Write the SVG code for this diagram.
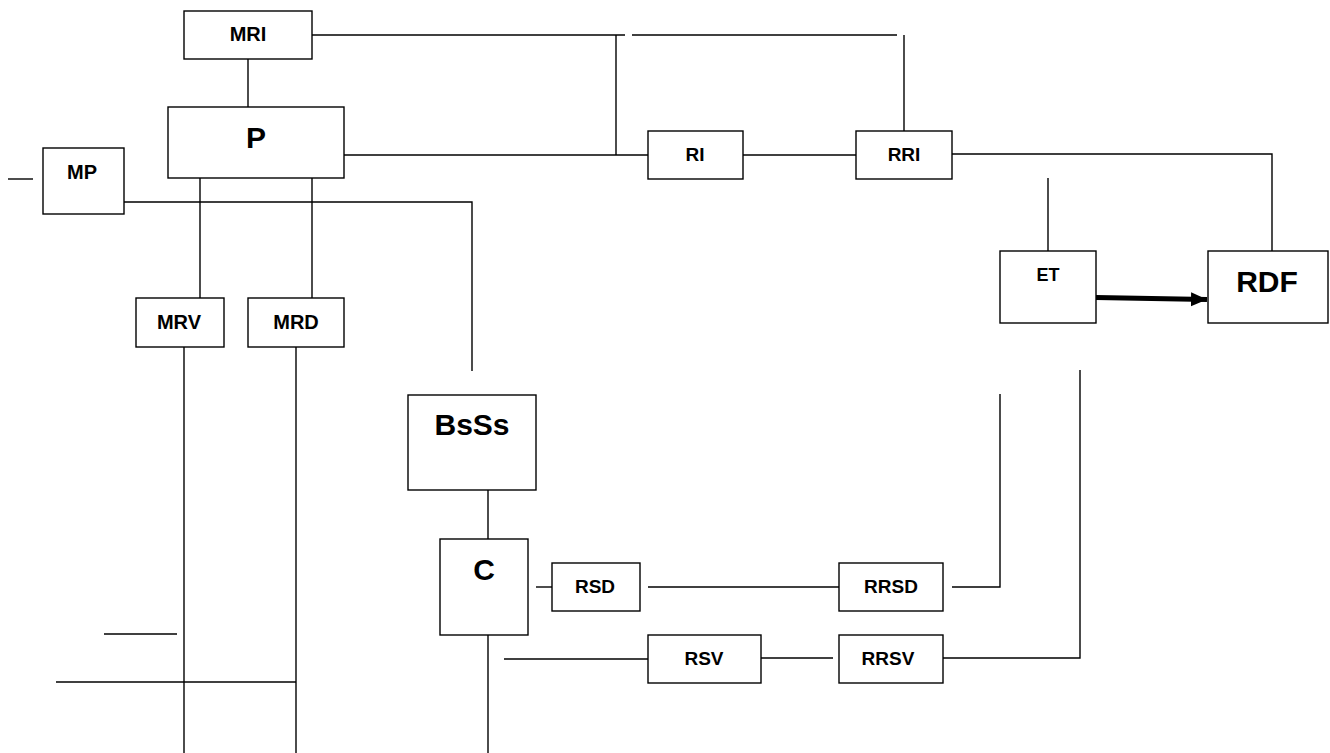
<svg xmlns="http://www.w3.org/2000/svg" width="1330" height="753" viewBox="0 0 1330 753">
<style>
.box{fill:#fff;stroke:#000;stroke-width:1.4}
.ln{fill:none;stroke:#000;stroke-width:1.4}
text{font-family:"Liberation Sans",Arial,sans-serif;font-weight:bold;fill:#000;text-anchor:middle}
.s{font-size:19px}
.m{font-size:20px}
.b{font-size:30px}
</style>
<defs>
<marker id="ah" markerUnits="userSpaceOnUse" markerWidth="18" markerHeight="16" refX="16" refY="7" orient="auto">
<path d="M0,0 L16,7 L0,14 z" fill="#000"/>
</marker>
</defs>
<rect width="1330" height="753" fill="#fff"/>
<g id="connectors">
<path class="ln" d="M248,59 V107"/>
<path class="ln" d="M312,35 H625"/>
<path class="ln" d="M632,35 H897"/>
<path class="ln" d="M904,35 V131"/>
<path class="ln" d="M616,35 V155"/>
<path class="ln" d="M344,155 H648"/>
<path class="ln" d="M743,155 H863"/>
<path class="ln" d="M952,154 H1272 V251"/>
<path class="ln" d="M1048,178 V251"/>
<path d="M1096,297.5 L1207,299.5" stroke="#000" stroke-width="5" fill="none" marker-end="url(#ah)"/>
<path class="ln" d="M8,179 H33"/>
<path class="ln" d="M124,202 H472 V371"/>
<path class="ln" d="M200,178 V298"/>
<path class="ln" d="M312,178 V298"/>
<path class="ln" d="M184,347 V753"/>
<path class="ln" d="M296,347 V753"/>
<path class="ln" d="M104,634 H177"/>
<path class="ln" d="M56,682 H296"/>
<path class="ln" d="M488,490 V539"/>
<path class="ln" d="M488,635 V753"/>
<path class="ln" d="M536,587 H561"/>
<path class="ln" d="M648,587 H839"/>
<path class="ln" d="M952,587 H1000 V394"/>
<path class="ln" d="M504,659 H648"/>
<path class="ln" d="M761,658 H833"/>
<path class="ln" d="M936,658 H1080 V370"/>
</g>
<g id="MRI"><rect class="box" x="184" y="11" width="128" height="48"/><text class="m" x="248" y="41">MRI</text></g>
<g id="P"><rect class="box" x="168" y="107" width="176" height="71"/><text class="b" x="256" y="148">P</text></g>
<g id="MP"><rect class="box" x="43" y="148" width="81" height="66"/><text class="m" x="82" y="179">MP</text></g>
<g id="RI"><rect class="box" x="648" y="131" width="95" height="48"/><text class="s" x="695" y="161">RI</text></g>
<g id="RRI"><rect class="box" x="856" y="131" width="96" height="48"/><text class="s" x="904" y="161">RRI</text></g>
<g id="ET"><rect class="box" x="1000" y="251" width="96" height="72"/><text x="1048" y="281" style="font-size:18px">ET</text></g>
<g id="RDF"><rect class="box" x="1208" y="251" width="120" height="72"/><text class="b" x="1267" y="292">RDF</text></g>
<g id="MRV"><rect class="box" x="136" y="298" width="88" height="49"/><text class="m" x="179" y="329">MRV</text></g>
<g id="MRD"><rect class="box" x="248" y="298" width="96" height="49"/><text class="m" x="296" y="329">MRD</text></g>
<g id="BsSs"><rect class="box" x="408" y="395" width="128" height="95"/><text class="b" x="472" y="435">BsSs</text></g>
<g id="C"><rect class="box" x="440" y="539" width="88" height="96"/><text class="b" x="484" y="580">C</text></g>
<g id="RSD"><rect class="box" x="552" y="563" width="88" height="48"/><text class="s" x="595" y="593">RSD</text></g>
<g id="RRSD"><rect class="box" x="839" y="563" width="104" height="48"/><text class="s" x="891" y="593">RRSD</text></g>
<g id="RSV"><rect class="box" x="648" y="635" width="113" height="48"/><text class="s" x="704" y="665">RSV</text></g>
<g id="RRSV"><rect class="box" x="839" y="635" width="104" height="48"/><text class="s" x="888" y="665">RRSV</text></g>
</svg>
